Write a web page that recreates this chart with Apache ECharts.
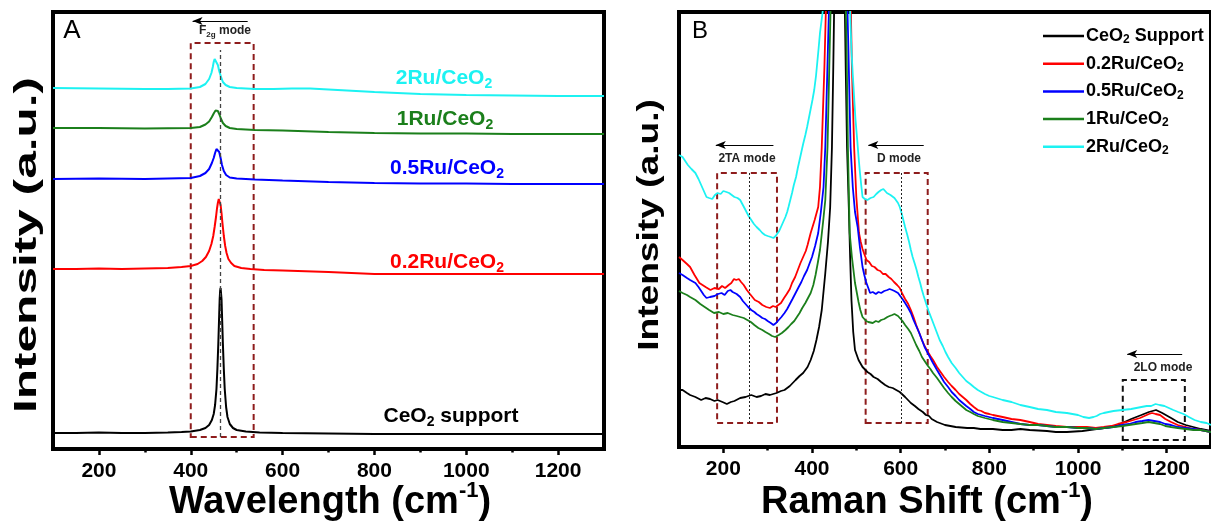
<!DOCTYPE html>
<html>
<head>
<meta charset="utf-8">
<script src="https://cdn.jsdelivr.net/npm/echarts@6/dist/echarts.min.js"></script>
<style>
  html, body { margin: 0; padding: 0; background: #fff; }
  #chart { width: 1211px; height: 525px; }
</style>
</head>
<body>
<div id="chart"></div>
<script>
// ---- axis ticks ----
const xTicks = [200, 400, 600, 800, 1000, 1200];
const xMinorTicks = [300, 500, 700, 900, 1100];

// ---- samples ----
const sampleNames = ['CeO2 Support', '0.2Ru/CeO2', '0.5Ru/CeO2', '1Ru/CeO2', '2Ru/CeO2'];
const sampleColors = ['#000000', '#ff0000', '#0000ff', '#1b7f1b', '#1cf2f2'];

// ---- panel A: stacked spectra around the F2g band [cm-1, a.u.] ----
const specA_CeO2 = [[100,16],[150,16],[200,16.5],[250,16],[300,16],[350,16.5],[380,17],[400,17.5],[420,19],[432,21],[440,24],[446,29],[450,35],[453,44],[456,60],[458,80],[460,105],[462,135],[463,150],[464,158],[465,161],[466,159],[467,150],[468,135],[470,105],[472,80],[474,60],[477,42],[480,32],[485,25],[492,21],[500,19],[520,17.5],[550,16.5],[600,16],[700,15.5],[800,15],[900,15],[1000,15],[1100,15],[1200,15],[1300,15]];
const specA_02Ru = [[100,180],[150,180],[200,180.5],[250,180],[300,180.5],[350,181],[380,182],[400,183],[415,185],[425,188],[433,192],[440,198],[445,205],[449,213],[452,222],[455,232],[457,240],[459,246],[461,250],[463,249],[465,244],[467,236],[469,226],[472,213],[475,203],[478,196],[482,190],[488,186],[495,183],[510,181],[530,180],[560,179],[600,178.5],[700,177],[750,176],[800,175],[900,175],[1000,175],[1100,175],[1200,175],[1300,175]];
const specA_05Ru = [[100,270],[200,270.5],[300,270],[350,270.5],[400,271],[420,273],[432,276],[440,280],[446,286],[450,291],[453,296],[456,300],[458,301],[460,300],[462,297],[465,291],[468,284],[472,278],[477,274],[485,271.5],[500,270.5],[540,269.5],[600,268.5],[700,267],[800,266],[900,265.5],[1000,265.5],[1100,265],[1200,265],[1300,265]];
const specA_1Ru = [[100,321],[200,321],[300,320.5],[400,321],[420,322],[432,324.5],[440,327.5],[446,332],[450,335.5],[454,338.5],[456,339],[459,338],[462,335],[466,330],[470,326],[476,323],[485,321],[500,320],[540,319],[600,318.5],[700,317],[800,316],[900,315.5],[1000,315.5],[1100,315],[1200,315],[1300,315]];
const specA_2Ru = [[100,361],[200,360.5],[300,360],[350,360],[400,360.5],[420,362],[432,365],[440,370],[445,376],[448,382],[450,387],[452,390],[454,391],[456,389],[459,384],[462,378],[466,372],[470,367],[476,364],[485,362],[500,361],[540,360],[580,360],[620,360.5],[660,360.5],[700,359.5],[760,358],[800,357],[900,355],[1000,354],[1100,353.5],[1200,353],[1300,353]];

// ---- panel B: unshifted spectra, zoomed on the weak bands [cm-1, a.u.] ----
const specB_CeO2 = [[100,57],[108,57],[118,54],[125,52],[137,50],[150,47],[160,49],[170,48],[180,46],[187,47],[198,45],[208,43],[217,45],[225,46],[238,49],[250,50],[263,52],[275,50],[285,51],[295,53],[305,52],[320,54],[330,56],[338,57],[350,61],[363,67],[372,71],[380,74],[390,80],[397,87],[404,96],[410,107],[416,120],[422,137],[430,174],[436,205],[441,240],[445,300],[448,380],[452,500],[462,700],[472,500],[476,380],[479,300],[483,240],[486,190],[489,147],[493,115],[497,97],[505,87],[514,80],[525,75],[532,73],[539,70],[548,68],[556,65],[565,62],[573,60],[582,59],[590,57],[598,55],[610,50],[623,44],[632,41],[640,38],[650,35],[657,32],[664,31],[670,28],[682,25],[700,22],[712,21],[724,20],[750,19],[765,19],[780,18],[808,18],[830,17],[850,17],[870,18],[891,17],[930,16],[950,15],[975,15],[1010,16],[1042,18],[1060,19],[1075,20],[1090,22],[1100,24],[1120,28],[1143,32],[1160,35],[1176,37],[1190,34],[1210,29],[1225,25],[1243,22],[1260,20],[1277,18],[1300,16]];
const specB_02Ru = [[100,190],[108,187],[118,183],[125,180],[135,172],[146,164],[153,162],[160,160],[171,157],[180,159],[190,158],[197,161],[204,159],[212,162],[218,164],[224,168],[229,167],[235,168],[240,165],[246,162],[253,157],[260,153],[271,147],[280,145],[288,142],[297,140],[305,139],[312,141],[318,140],[324,142],[330,144],[337,149],[343,153],[350,158],[355,164],[362,170],[368,177],[374,184],[380,190],[386,196],[390,202],[397,214],[406,227],[414,240],[418,260],[422,300],[428,380],[435,500],[460,800],[485,500],[490,380],[495,300],[500,250],[506,214],[510,205],[514,198],[518,193],[523,187],[529,185],[535,181],[541,180],[548,177],[554,176],[560,173],[566,173],[573,170],[579,168],[585,165],[592,162],[598,159],[604,153],[610,148],[617,143],[623,137],[629,130],[635,122],[642,114],[648,107],[654,101],[660,96],[667,91],[673,87],[682,80],[690,75],[698,70],[707,65],[715,61],[724,57],[732,53],[740,50],[748,47],[757,43],[765,40],[774,37],[782,36],[790,34],[800,33],[808,32],[830,30],[850,28],[870,27],[891,25],[910,23],[930,22],[950,21],[975,20],[1000,20],[1020,20],[1040,19],[1058,20],[1075,21],[1090,23],[1110,25],[1125,27],[1140,29],[1150,31],[1160,33],[1167,34],[1175,33],[1185,32],[1197,28],[1210,25],[1225,22],[1243,20],[1260,18],[1277,17],[1300,15]];
const specB_05Ru = [[100,174],[108,172],[118,169],[125,167],[137,164],[144,160],[150,156],[156,152],[162,149],[170,150],[180,151],[188,153],[196,154],[203,152],[210,156],[216,157],[221,155],[230,153],[238,150],[244,146],[250,143],[256,140],[263,137],[270,135],[275,133],[282,131],[288,129],[294,128],[300,126],[307,124],[313,122],[319,124],[325,127],[331,130],[338,134],[344,138],[350,143],[356,148],[363,154],[370,160],[376,165],[382,171],[389,177],[394,183],[400,190],[407,201],[414,214],[420,235],[426,260],[430,300],[436,400],[460,800],[482,400],[487,300],[492,260],[497,235],[503,220],[508,200],[514,180],[518,172],[522,165],[527,159],[531,154],[537,155],[544,153],[550,155],[556,154],[563,156],[570,157],[575,158],[581,157],[586,156],[590,155],[594,154],[598,152],[604,148],[610,144],[617,139],[623,134],[629,127],[635,121],[642,114],[648,107],[654,100],[660,95],[667,89],[673,84],[682,77],[690,71],[698,65],[707,60],[715,55],[724,51],[732,47],[740,44],[748,41],[757,38],[765,35],[774,33],[790,31],[808,29],[830,27],[850,25],[870,23],[891,22],[910,22],[930,21],[950,20],[975,20],[1000,19],[1020,19],[1040,18],[1058,19],[1080,20],[1100,22],[1115,23],[1130,25],[1145,26],[1159,27],[1172,26],[1185,25],[1197,23],[1210,22],[1225,20],[1243,19],[1260,18],[1277,17],[1300,15]];
const specB_1Ru = [[100,156],[108,154],[118,152],[125,150],[137,147],[148,143],[158,140],[168,137],[179,134],[190,135],[200,133],[210,134],[221,132],[230,131],[238,130],[246,129],[254,127],[262,125],[270,122],[279,119],[288,117],[295,115],[303,113],[310,111],[317,110],[325,112],[332,114],[340,117],[347,120],[353,123],[360,126],[366,130],[372,134],[378,139],[385,144],[391,149],[397,154],[403,162],[408,172],[413,184],[418,197],[425,225],[430,247],[435,300],[440,400],[460,800],[478,400],[481,300],[485,214],[490,190],[497,164],[505,145],[509,137],[514,130],[518,128],[522,126],[527,125],[531,125],[537,124],[544,126],[550,125],[556,127],[563,128],[570,130],[575,131],[581,132],[586,133],[590,131],[594,131],[598,130],[604,126],[610,122],[617,118],[623,114],[629,108],[635,102],[642,96],[648,90],[654,86],[660,82],[667,78],[673,74],[682,69],[690,64],[698,59],[707,54],[715,50],[724,46],[732,43],[740,40],[748,37],[757,35],[765,33],[774,31],[790,29],[808,27],[830,25],[850,24],[870,23],[891,22],[910,22],[930,21],[950,20],[975,20],[1000,19],[1020,19],[1040,18],[1058,19],[1080,20],[1100,21],[1115,22],[1130,23],[1145,24],[1159,25],[1172,24],[1185,23],[1197,21],[1210,20],[1225,19],[1243,18],[1260,17],[1277,17],[1300,15]];
const specB_2Ru = [[100,292],[108,290],[114,286],[120,282],[128,278],[137,274],[144,268],[150,262],[156,256],[162,250],[168,249],[175,248],[181,252],[187,254],[194,253],[200,256],[207,255],[213,254],[219,252],[225,250],[232,249],[238,247],[244,242],[250,237],[257,231],[263,227],[269,223],[275,220],[282,217],[288,214],[294,212],[300,211],[307,210],[313,209],[318,211],[322,213],[326,216],[330,220],[335,225],[340,230],[344,235],[347,240],[351,247],[355,254],[359,262],[364,270],[368,279],[372,287],[376,295],[380,303],[385,312],[389,320],[393,329],[397,338],[401,347],[405,357],[409,371],[412,385],[415,399],[418,414],[424,435],[430,500],[460,800],[483,500],[486,435],[489,397],[492,372],[495,350],[498,328],[502,307],[505,290],[508,275],[511,262],[514,250],[519,248],[525,247],[532,249],[539,250],[545,253],[550,255],[556,257],[561,258],[565,256],[569,254],[573,252],[577,252],[581,250],[586,249],[590,247],[594,244],[598,240],[602,234],[606,227],[610,220],[615,212],[619,205],[623,197],[627,190],[632,183],[636,177],[640,170],[644,164],[648,157],[652,151],[657,144],[663,136],[670,128],[676,121],[682,114],[688,107],[695,101],[701,95],[707,90],[715,84],[724,79],[732,74],[740,70],[748,66],[757,63],[765,60],[774,57],[782,55],[790,53],[800,51],[808,50],[830,47],[850,45],[870,42],[891,40],[910,38],[930,37],[950,35],[975,34],[1000,32],[1012,30],[1025,29],[1035,30],[1042,31],[1050,33],[1058,34],[1080,36],[1100,37],[1120,38],[1143,40],[1155,41],[1165,41],[1175,43],[1184,42],[1195,41],[1205,39],[1215,37],[1226,35],[1238,33],[1250,30],[1263,27],[1277,25],[1290,24],[1300,22]];

// ---- band windows and mode positions (cm-1) ----
const f2gWindow = [400, 537];
const f2gCenter = 464;
const taWindow = [186, 321];
const taCenter = 259;
const dWindow = [521, 661];
const dCenter = 602;
const loWindow = [1101, 1241];

const FONT = '"Liberation Sans", Arial, Helvetica, sans-serif';
const BOX_RED = '#8e1c1c';

function subRich(name, main, sub) {
  const i = name.indexOf('O2');
  if (i < 0) return '{' + main + '|' + name + '}';
  const a = name.slice(0, i + 1), b = name.slice(i + 2);
  let s = '{' + main + '|' + a + '}{' + sub + '|2}';
  if (b) s += '{' + main + '|' + b + '}';
  return s;
}

const chart = echarts.init(document.getElementById('chart'), null, { renderer: 'canvas' });

const specsA = [specA_CeO2, specA_02Ru, specA_05Ru, specA_1Ru, specA_2Ru];
const specsB = [specB_CeO2, specB_02Ru, specB_05Ru, specB_1Ru, specB_2Ru];

function mainXAxis(gridIndex) {
  return {
    type: 'value', gridIndex, min: 100, max: 1300,
    axisLine: { show: false },
    axisTick: { show: true, customValues: xTicks, length: 6, inside: false, lineStyle: { color: '#000', width: 2.5 } },
    axisLabel: {
      show: true, customValues: xTicks, margin: 12, color: '#000',
      fontFamily: FONT, fontWeight: 'bold', fontSize: 21,
      formatter: (v) => String(v)
    },
    splitLine: { show: false }
  };
}
function minorXAxis(gridIndex) {
  return {
    type: 'value', gridIndex, min: 100, max: 1300, position: 'bottom',
    axisLine: { show: false },
    axisTick: { show: true, customValues: xMinorTicks, length: 3.5, inside: false, lineStyle: { color: '#000', width: 2.5 } },
    axisLabel: { show: false, customValues: xMinorTicks },
    splitLine: { show: false }
  };
}
function hiddenYAxis(gridIndex, max) {
  return {
    type: 'value', gridIndex, min: 0, max,
    axisLine: { show: false }, axisTick: { show: false }, axisLabel: { show: false }, splitLine: { show: false }
  };
}

const series = [];
specsA.forEach((d, i) => {
  series.push({
    name: sampleNames[i], type: 'line', xAxisIndex: 0, yAxisIndex: 0,
    data: d, showSymbol: false, symbol: 'none', clip: true,
    lineStyle: { color: sampleColors[i], width: 2 }, itemStyle: { color: sampleColors[i] },
    z: 3
  });
});
specsB.forEach((d, i) => {
  series.push({
    name: sampleNames[i], type: 'line', xAxisIndex: 2, yAxisIndex: 1,
    data: d, showSymbol: false, symbol: 'none', clip: true,
    lineStyle: { color: sampleColors[i], width: 1.8 }, itemStyle: { color: sampleColors[i] },
    z: 3
  });
});

// panel A annotations: F2g window, centre line and shift arrow
series.push({
  type: 'line', xAxisIndex: 0, yAxisIndex: 0, data: [], silent: true, z: 2,
  markArea: {
    silent: true,
    itemStyle: { color: 'rgba(0,0,0,0)', borderColor: BOX_RED, borderWidth: 2, borderType: [6, 4] },
    data: [[{ coord: [f2gWindow[0], 12] }, { coord: [f2gWindow[1], 406] }]]
  },
  markLine: {
    silent: true, symbol: 'none', label: { show: false },
    data: [
      [{ coord: [f2gCenter, 12], lineStyle: { color: '#444', width: 1.3, type: [4, 3] } }, { coord: [f2gCenter, 399] }],
      [{ coord: [524, 428], symbol: 'none', lineStyle: { color: '#000', width: 1, type: 'solid' } }, { coord: [404, 428], symbol: 'arrow', symbolSize: [6, 10] }]
    ]
  }
});

// panel B annotations: 2TA, D and 2LO windows
series.push({
  type: 'line', xAxisIndex: 2, yAxisIndex: 1, data: [], silent: true, z: 2,
  markArea: {
    silent: true,
    data: [
      [{ coord: [taWindow[0], 24], itemStyle: { color: 'rgba(0,0,0,0)', borderColor: BOX_RED, borderWidth: 2, borderType: [6, 4] } }, { coord: [taWindow[1], 274] }],
      [{ coord: [dWindow[0], 24], itemStyle: { color: 'rgba(0,0,0,0)', borderColor: BOX_RED, borderWidth: 2, borderType: [6, 4] } }, { coord: [dWindow[1], 274] }],
      [{ coord: [loWindow[0], 7], itemStyle: { color: 'rgba(0,0,0,0)', borderColor: '#111', borderWidth: 2, borderType: [6, 4] } }, { coord: [loWindow[1], 67] }]
    ]
  },
  markLine: {
    silent: true, symbol: 'none', label: { show: false },
    data: [
      [{ coord: [taCenter, 24], lineStyle: { color: '#222', width: 1, type: [2, 2] } }, { coord: [taCenter, 274] }],
      [{ coord: [dCenter, 24], lineStyle: { color: '#222', width: 1, type: [2, 2] } }, { coord: [dCenter, 274] }],
      [{ coord: [313, 302], symbol: 'none', lineStyle: { color: '#000', width: 1, type: 'solid' } }, { coord: [183, 302], symbol: 'arrow', symbolSize: [6, 10] }],
      [{ coord: [652, 302], symbol: 'none', lineStyle: { color: '#000', width: 1, type: 'solid' } }, { coord: [527, 302], symbol: 'arrow', symbolSize: [6, 10] }],
      [{ coord: [1235, 93], symbol: 'none', lineStyle: { color: '#000', width: 1, type: 'solid' } }, { coord: [1111, 93], symbol: 'arrow', symbolSize: [6, 10] }]
    ]
  }
});

const labelRich = (fs) => ({
  m: { fontFamily: FONT, fontWeight: 'bold', fontSize: fs, lineHeight: fs + 6, verticalAlign: 'middle' },
  s: { fontFamily: FONT, fontWeight: 'bold', fontSize: Math.round(fs * 0.65), lineHeight: Math.round(fs * 0.65), verticalAlign: 'bottom' }
});

function sampleLabel(text, x, y, color) {
  return {
    type: 'text', x, y, z: 10,
    style: { text: subRich(text, 'm', 's'), rich: labelRich(21), fill: color, align: 'center', verticalAlign: 'middle' }
  };
}

const titleRich = {
  t: { fontFamily: FONT, fontWeight: 'bold', fontSize: 38, lineHeight: 46, verticalAlign: 'middle' },
  p: { fontFamily: FONT, fontWeight: 'bold', fontSize: 22, lineHeight: 22, verticalAlign: 'top' }
};

function modeLabel(main, x, y) {
  return {
    type: 'text', x, y, z: 10,
    style: { text: main, font: 'bold 12px ' + FONT, fill: '#222', align: 'center', verticalAlign: 'middle' }
  };
}

const option = {
  backgroundColor: '#fff',
  animation: false,
  grid: [
    { left: 53, top: 12, width: 551, height: 437, show: true, borderColor: '#000', borderWidth: 4, backgroundColor: 'transparent', containLabel: false },
    { left: 679, top: 12, width: 542, height: 435, show: true, borderColor: '#000', borderWidth: 4, backgroundColor: 'transparent', containLabel: false }
  ],
  xAxis: [mainXAxis(0), minorXAxis(0), mainXAxis(1), minorXAxis(1)],
  yAxis: [hiddenYAxis(0, 437), hiddenYAxis(1, 435)],
  legend: {
    data: sampleNames,
    orient: 'vertical', left: 1038, top: 22,
    icon: 'rect', itemWidth: 41, itemHeight: 2.5, itemGap: 8.7,
    selectedMode: false,
    formatter: (name) => subRich(name, 'm', 's'),
    textStyle: {
      color: '#000', padding: [0, 0, 0, -3],
      rich: {
        m: { fontFamily: FONT, fontWeight: 'bold', fontSize: 18, lineHeight: 20, verticalAlign: 'middle' },
        s: { fontFamily: FONT, fontWeight: 'bold', fontSize: 12, lineHeight: 12, verticalAlign: 'bottom' }
      }
    }
  },
  graphic: [
    { type: 'text', x: 72, y: 31, style: { text: 'A', font: '26px ' + FONT, fill: '#000', align: 'center', verticalAlign: 'middle' } },
    { type: 'text', x: 700, y: 31, style: { text: 'B', font: '24px ' + FONT, fill: '#000', align: 'center', verticalAlign: 'middle' } },
    sampleLabel('2Ru/CeO2', 444, 78, sampleColors[4]),
    sampleLabel('1Ru/CeO2', 445, 119, sampleColors[3]),
    sampleLabel('0.5Ru/CeO2', 447, 168, sampleColors[2]),
    sampleLabel('0.2Ru/CeO2', 447, 262, sampleColors[1]),
    sampleLabel('CeO2 support', 451, 416, '#000'),
    {
      type: 'text', x: 225, y: 31, z: 10,
      style: {
        text: '{a|F}{b|2g}{a| mode}', fill: '#222', align: 'center', verticalAlign: 'middle',
        rich: {
          a: { fontFamily: FONT, fontWeight: 'bold', fontSize: 12, lineHeight: 16, verticalAlign: 'middle' },
          b: { fontFamily: FONT, fontWeight: 'bold', fontSize: 8, lineHeight: 8, verticalAlign: 'bottom' }
        }
      }
    },
    modeLabel('2TA mode', 747, 159),
    modeLabel('D mode', 899, 159),
    modeLabel('2LO mode', 1163, 368),
    {
      type: 'text', x: 330, y: 503,
      style: { text: '{t|Wavelength (cm}{p|-1}{t|)}', rich: titleRich, fill: '#000', align: 'center', verticalAlign: 'middle' }
    },
    {
      type: 'text', x: 927, y: 503,
      style: { text: '{t|Raman Shift (cm}{p|-1}{t|)}', rich: titleRich, fill: '#000', align: 'center', verticalAlign: 'middle' }
    },
    {
      type: 'text', x: 27, y: 245, rotation: Math.PI / 2, scaleX: 1.55,
      style: { text: 'Intensity (a.u.)', font: 'bold 32px ' + FONT, fill: '#000', align: 'center', verticalAlign: 'middle' }
    },
    {
      type: 'text', x: 650, y: 225, rotation: Math.PI / 2, scaleX: 1.28,
      style: { text: 'Intensity (a.u.)', font: 'bold 29px ' + FONT, fill: '#000', align: 'center', verticalAlign: 'middle' }
    }
  ],
  series
};

chart.setOption(option);
</script>
</body>
</html>
